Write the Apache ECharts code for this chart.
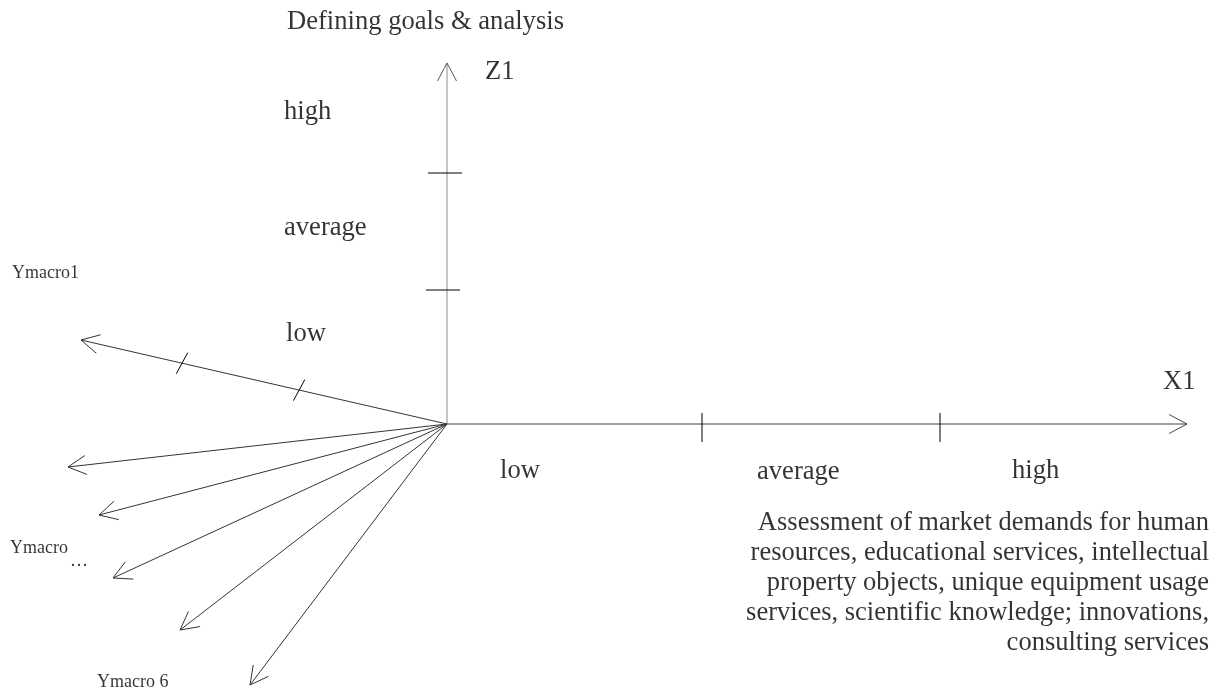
<!DOCTYPE html>
<html>
<head>
<meta charset="utf-8">
<style>
  html, body { margin: 0; padding: 0; background: #fff; }
  #chart { width: 1218px; height: 691px; }
</style>
<script src="https://cdn.jsdelivr.net/npm/echarts@6/dist/echarts.min.js"></script>
</head>
<body>
<div id="chart"></div>
<script>
// diagram space is in page pixels (x right, y down)
const origin = [447, 424]
const zAxisEnd = [447, 63]
const xAxisEnd = [1187, 424]
// Ymacro rays, first one is Ymacro1, last one Ymacro 6
const rayEnds = [[81, 340], [68, 467], [99, 515], [113, 578], [180, 630], [250, 685]]
const zTickYs = [173, 290]
const xTickXs = [702, 940]
const ray1TickFractions = [0.404, 0.724]

const levelLabels = ['low', 'average', 'high']
const zLevelPos = [[286, 334], [284, 228], [284, 112]]
const xLevelPos = [[500, 471], [757, 472], [1012, 471]]

const titleText = 'Defining goals & analysis'
const xNoteLines = [
  'Assessment of market demands for human',
  'resources, educational services, intellectual',
  'property objects, unique equipment usage',
  'services, scientific knowledge; innovations,',
  'consulting services'
]
const rayLabels = [
  { text: 'Ymacro1', pos: [12, 273] },
  { text: 'Ymacro', pos: [10, 548] },
  { text: '…', pos: [70, 561] },
  { text: 'Ymacro 6', pos: [97, 682] }
]

const font = '"Liberation Serif", "Times New Roman", serif'

function seg(a, b, color) {
  return {
    type: 'line',
    data: [a, b],
    symbol: 'none',
    silent: true,
    lineStyle: { color: color, width: 1 },
    z: 2
  }
}

// open chevron at the tip of a segment from -> to
function arrowHead(from, to, color) {
  const dx = to[0] - from[0]
  const dy = to[1] - from[1]
  const len = Math.hypot(dx, dy)
  const ux = dx / len, uy = dy / len
  const L = 18, W = 9.5
  const bx = to[0] - ux * L, by = to[1] - uy * L
  const p1 = [bx - uy * W, by + ux * W]
  const p2 = [bx + uy * W, by - ux * W]
  return {
    type: 'line',
    data: [p1, to, p2],
    symbol: 'none',
    silent: true,
    lineStyle: { color: color, width: 1 },
    z: 2
  }
}

const series = []

// Z1 (vertical) axis
series.push(seg(origin, zAxisEnd, '#8c8c8c'))
series.push(arrowHead(origin, zAxisEnd, '#555'))
zTickYs.forEach((y, i) => {
  const off = i === 0 ? 0 : -2
  series.push(seg([428 + off, y], [462 + off, y], '#000'))
})

// X1 axis
series.push(seg(origin, xAxisEnd, '#444'))
series.push(arrowHead(origin, xAxisEnd, '#444'))
xTickXs.forEach(x => {
  series.push(seg([x, 413], [x, 442], '#000'))
})

// Ymacro rays
rayEnds.forEach(end => {
  series.push(seg(origin, end, '#333'))
  series.push(arrowHead(origin, end, '#333'))
})
// ticks on the Ymacro1 ray
const r1 = rayEnds[0]
ray1TickFractions.forEach(t => {
  const cx = origin[0] + (r1[0] - origin[0]) * t
  const cy = origin[1] + (r1[1] - origin[1]) * t
  const dx = 0.476 * 12, dy = -0.879 * 12
  series.push(seg([cx - dx, cy - dy], [cx + dx, cy + dy], '#000'))
})

// text labels, placed through the same axes
const bigLabels = [
  { value: [287, 22], text: titleText },
  { value: [485, 72], text: 'Z1' },
  { value: [1163, 382], text: 'X1' }
]
levelLabels.forEach((t, i) => {
  bigLabels.push({ value: zLevelPos[i], text: t })
  bigLabels.push({ value: xLevelPos[i], text: t })
})

series.push({
  type: 'scatter',
  symbolSize: 0,
  silent: true,
  data: bigLabels.map(d => ({ value: d.value, name: d.text })),
  label: {
    show: true,
    position: 'right',
    distance: 0,
    formatter: p => p.name,
    fontFamily: font,
    fontSize: 26.6,
    color: '#000'
  }
})

series.push({
  type: 'scatter',
  symbolSize: 0,
  silent: true,
  data: rayLabels.map(d => ({ value: d.pos, name: d.text })),
  label: {
    show: true,
    position: 'right',
    distance: 0,
    formatter: p => p.name,
    fontFamily: font,
    fontSize: 18,
    color: '#000'
  }
})

// right aligned note under the X1 axis
series.push({
  type: 'scatter',
  symbolSize: 0,
  silent: true,
  data: [{ value: [1209, 583], name: xNoteLines.join('\n') }],
  label: {
    show: true,
    position: 'left',
    distance: 0,
    align: 'right',
    formatter: p => p.name,
    fontFamily: font,
    fontSize: 26.5,
    lineHeight: 30.2,
    color: '#000'
  }
})

const chart = echarts.init(document.getElementById('chart'))
chart.setOption({
  animation: false,
  grid: { left: 0, right: 0, top: 0, bottom: 0 },
  xAxis: { type: 'value', min: 0, max: 1218, show: false },
  yAxis: { type: 'value', min: 0, max: 691, inverse: true, show: false },
  series: series
})
</script>
</body>
</html>
